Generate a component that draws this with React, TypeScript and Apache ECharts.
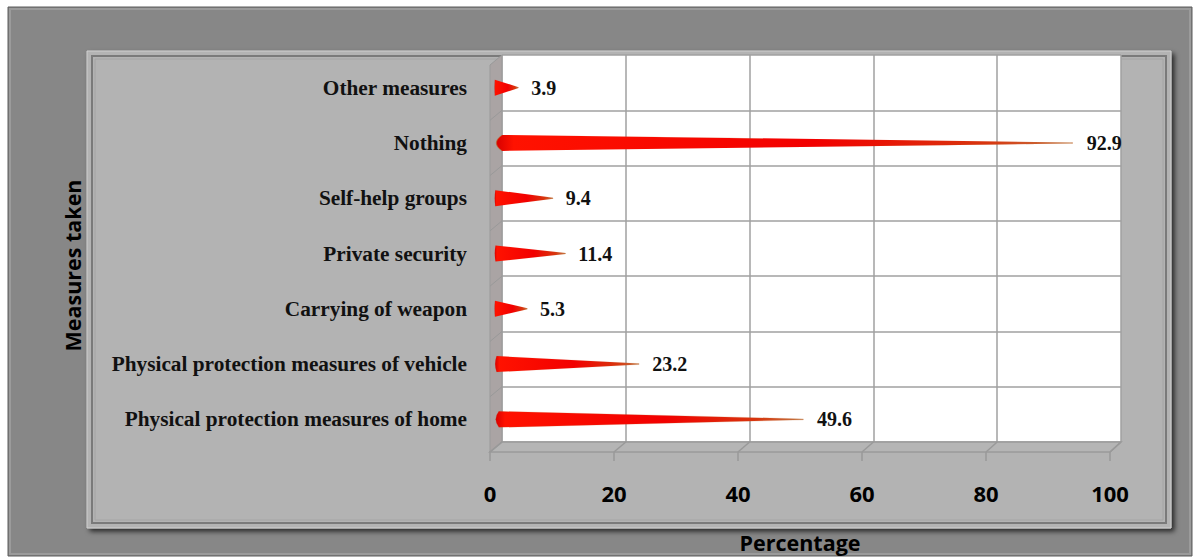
import React, { useEffect, useRef } from "react";
import * as echarts from "echarts";

// Data (bottom-to-top order, as in the original chart)
const categories = [
  "Physical protection measures of home",
  "Physical protection measures of vehicle",
  "Carrying of weapon",
  "Private security",
  "Self-help groups",
  "Nothing",
  "Other measures",
];
const percentages = [49.6, 23.2, 5.3, 11.4, 9.4, 92.9, 3.9];
const xTicks = { min: 0, max: 100, interval: 20 };
const yTitle = "Measures taken";
const xTitle = "Percentage";

// Layout constants (3D look)
const W = 1194;
const H = 558;
const BACK = { left: 502, top: 55, width: 619, height: 387 };
const FRONT = { left: 490, bottom: 452, width: 620 };
const BARS = { left: 494, top: 60, width: 620, height: 387 };

export default function App() {
  const ref = useRef<HTMLDivElement>(null);

  useEffect(() => {
    if (!ref.current) return;
    const chart = echarts.init(ref.current, null, { renderer: "svg" });

    const dy = FRONT.bottom - (BACK.top + BACK.height); // 10
    const backBottom = BACK.top + BACK.height;
    const frontRight = FRONT.left + FRONT.width;
    const backRight = BACK.left + BACK.width;

    const graphics: any[] = [];
    // outer frame
    graphics.push({
      type: "rect",
      z: -20,
      shape: { x: 8, y: 7, width: 1184, height: 549 },
      style: { fill: "#878787", stroke: "#5c5c5c", lineWidth: 1 },
    });
    graphics.push({
      type: "rect",
      z: -19,
      shape: { x: 10, y: 9, width: 1180, height: 545 },
      style: { fill: "none", stroke: "#9b9b9b", lineWidth: 2 },
    });
    // inner panel
    graphics.push({
      type: "rect",
      z: -18,
      shape: { x: 87, y: 51, width: 1084, height: 477 },
      style: {
        fill: "#b3b3b3",
        stroke: "#d0d0d0",
        lineWidth: 1,
        shadowColor: "rgba(0,0,0,0.7)",
        shadowBlur: 5,
        shadowOffsetX: 3,
        shadowOffsetY: 3,
      },
    });
    graphics.push({
      type: "rect",
      z: -17,
      shape: { x: 92, y: 56, width: 1074, height: 467 },
      style: { fill: "none", stroke: "#7a7a7a", lineWidth: 2 },
    });
    graphics.push({
      type: "rect",
      z: -17,
      shape: { x: 95, y: 59, width: 1068, height: 461 },
      style: { fill: "none", stroke: "#a4a4a4", lineWidth: 1 },
    });

    // side wall
    graphics.push({
      type: "polygon",
      z: 1,
      shape: {
        points: [
          [FRONT.left, BACK.top + dy],
          [BACK.left, BACK.top],
          [BACK.left, backBottom],
          [FRONT.left, FRONT.bottom],
        ],
      },
      style: { fill: "#aaa4a4", stroke: "#999", lineWidth: 1 },
    });
    const band = BACK.height / categories.length;
    for (let i = 1; i < categories.length; i++) {
      const y = BACK.top + band * i;
      graphics.push({
        type: "line",
        z: 2,
        shape: { x1: FRONT.left, y1: y + dy, x2: BACK.left, y2: y },
        style: { stroke: "#999", lineWidth: 1 },
      });
    }
    // floor
    graphics.push({
      type: "polygon",
      z: 1,
      shape: {
        points: [
          [FRONT.left, FRONT.bottom],
          [BACK.left, backBottom],
          [backRight, backBottom],
          [frontRight, FRONT.bottom],
        ],
      },
      style: { fill: "#b5b5b5", stroke: "#9a9a9a", lineWidth: 1.5 },
    });
    const nTicks = (xTicks.max - xTicks.min) / xTicks.interval;
    for (let k = 0; k <= nTicks; k++) {
      graphics.push({
        type: "line",
        z: 2,
        shape: {
          x1: FRONT.left + (FRONT.width * k) / nTicks,
          y1: FRONT.bottom,
          x2: BACK.left + (BACK.width * k) / nTicks,
          y2: backBottom,
        },
        style: { stroke: "#999", lineWidth: 1.5 },
      });
    }

    const barGradient = new echarts.graphic.LinearGradient(0, 0, 1, 0, [
      { offset: 0, color: "#d80000" },
      { offset: 0.03, color: "#ff1200" },
      { offset: 0.55, color: "#f20000" },
      { offset: 0.85, color: "#d8350e" },
      { offset: 1, color: "#c27a45" },
    ]);

    chart.setOption({
      animation: false,
      backgroundColor: "#ffffff",
      graphic: graphics,
      grid: [
        {
          left: BACK.left,
          top: BACK.top,
          width: BACK.width,
          height: BACK.height,
          show: true,
          backgroundColor: "#ffffff",
          borderWidth: 0,
          z: 0,
        },
        {
          left: BARS.left,
          top: BARS.top,
          width: BARS.width,
          height: BARS.height,
        },
        {
          left: FRONT.left,
          top: 80,
          width: FRONT.width,
          height: FRONT.bottom - 80,
        },
      ],
      xAxis: [
        {
          gridIndex: 0,
          type: "value",
          min: xTicks.min,
          max: xTicks.max,
          interval: xTicks.interval,
          axisLine: { show: false },
          axisTick: { show: false },
          axisLabel: { show: false },
          splitLine: { show: true, lineStyle: { color: "#a0a0a0", width: 1.5 } },
        },
        {
          gridIndex: 1,
          type: "value",
          min: xTicks.min,
          max: xTicks.max,
          show: false,
        },
        {
          gridIndex: 2,
          type: "value",
          min: xTicks.min,
          max: xTicks.max,
          interval: xTicks.interval,
          axisLine: { show: false },
          axisTick: { show: true, length: 10, lineStyle: { color: "#999", width: 1.5 } },
          splitLine: { show: false },
          axisLabel: {
            margin: 31,
            fontFamily: "Open Sans",
            fontWeight: "bold",
            fontSize: 22,
            color: "#000",
          },
          name: xTitle,
          nameLocation: "middle",
          nameGap: 80,
          nameTextStyle: {
            fontFamily: "Open Sans",
            fontWeight: "bold",
            fontSize: 21.5,
            color: "#000",
          },
        },
      ],
      yAxis: [
        {
          gridIndex: 0,
          type: "category",
          data: categories,
          axisLine: { show: false },
          axisTick: { show: false },
          axisLabel: { show: false },
          splitLine: { show: true, lineStyle: { color: "#a0a0a0", width: 1.5 } },
        },
        {
          gridIndex: 1,
          type: "category",
          data: categories,
          axisLine: { show: false },
          axisTick: { show: false },
          splitLine: { show: false },
          axisLabel: {
            margin: 27,
            fontFamily: "Liberation Serif",
            fontWeight: "bold",
            fontSize: 21.3,
            color: "#111",
          },
        },
        {
          gridIndex: 2,
          type: "value",
          axisLine: { show: false },
          axisTick: { show: false },
          axisLabel: { show: false },
          splitLine: { show: false },
          name: yTitle,
          nameLocation: "middle",
          nameRotate: 90,
          nameGap: 407,
          nameTextStyle: {
            fontFamily: "Open Sans",
            fontWeight: "bold",
            fontSize: 21.5,
            color: "#000",
          },
        },
      ],
      series: [
        {
          type: "pictorialBar",
          xAxisIndex: 1,
          yAxisIndex: 1,
          data: percentages,
          symbol: "path://M2,0 L100,4.7 L100,5.3 L2,10 Q0,5 2,0 Z",
          symbolSize: ["100%", 16],
          symbolPosition: "start",
          symbolKeepAspect: false,
          itemStyle: {
            color: barGradient,
            borderColor: "rgba(190,100,40,0.6)",
            borderWidth: 0.8,
          },
          label: {
            show: true,
            position: "right",
            distance: 12,
            formatter: (p: any) => Number(p.value).toFixed(1),
            fontFamily: "Liberation Serif",
            fontWeight: "bold",
            fontSize: 20,
            color: "#111",
          },
          z: 5,
        },
      ],
    });

    return () => chart.dispose();
  }, []);

  return (
    <div
      ref={ref}
      style={{ position: "fixed", left: 0, top: 0, width: W, height: H }}
    />
  );
}
